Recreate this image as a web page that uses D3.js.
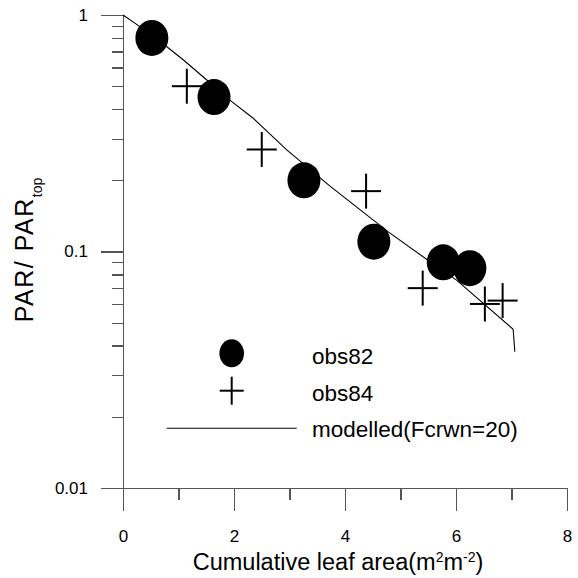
<!DOCTYPE html>
<meta charset='utf-8'>
<style>
  body { margin: 0; background: #fff; }
  svg { font-family: 'Liberation Sans', Arial, sans-serif; }
  .axis path, .axis line { stroke: #555; stroke-width: 1.3px; shape-rendering: crispEdges; }
  .axis text { font-size: 17px; fill: #000; font-family: 'Liberation Sans', Arial, sans-serif; }
  .model { fill: none; stroke: #000; stroke-width: 1.1px; }
  .plus { stroke: #000; stroke-width: 2px; }
</style>
<body>
<script src='https://d3js.org/d3.v7.min.js'></script>
<script>
// observed 1982
var obs82X = [0.52, 1.64, 3.26, 4.52, 5.77, 6.25];
var obs82Y = [0.80, 0.45, 0.20, 0.11, 0.090, 0.085];
// observed 1984
var obs84X = [1.15, 2.50, 4.38, 5.40, 6.52, 6.84];
var obs84Y = [0.50, 0.27, 0.18, 0.070, 0.060, 0.062];
// modelled curve
var modelX = [0, 0.22, 0.79, 1.09, 1.51, 1.96, 2.34, 2.95, 3.73, 4.78, 5.47, 6.01, 7.03, 7.06];
var modelY = [1.0, 0.922, 0.734, 0.645, 0.531, 0.430, 0.367, 0.269, 0.189, 0.121, 0.0927, 0.0757, 0.0469, 0.0377];

var xMajor = [0, 2, 4, 6, 8];
var xMinor = [1, 3, 5, 7];
var yMajor = [0.01, 0.1, 1];
var yMinor = [0.02, 0.03, 0.04, 0.05, 0.06, 0.07, 0.08, 0.09,
              0.2, 0.3, 0.4, 0.5, 0.6, 0.7, 0.8, 0.9];

var legendNames = ['obs82', 'obs84', 'modelled(Fcrwn=20)'];

var W = 578, H = 578;
var x = d3.scaleLinear().domain([0, 8]).range([123, 567]);
var y = d3.scaleLog().domain([0.01, 1]).range([488, 15]);

var svg = d3.select('body').append('svg')
    .attr('width', W)
    .attr('height', H);

// x axis
svg.append('g')
    .attr('class', 'axis')
    .attr('transform', 'translate(0,' + y(0.01) + ')')
    .call(d3.axisBottom(x).tickValues(xMinor).tickSize(12).tickSizeOuter(0).tickFormat(''));
svg.append('g')
    .attr('class', 'axis')
    .attr('transform', 'translate(0,' + y(0.01) + ')')
    .call(d3.axisBottom(x).tickValues(xMajor).tickSize(23).tickSizeOuter(0).tickPadding(19)
      .tickFormat(d3.format('d')));

// y axis
svg.append('g')
    .attr('class', 'axis')
    .attr('transform', 'translate(' + x(0) + ',0)')
    .call(d3.axisLeft(y).tickValues(yMinor).tickSize(11).tickSizeOuter(0).tickFormat(''));
svg.append('g')
    .attr('class', 'axis')
    .attr('transform', 'translate(' + x(0) + ',0)')
    .call(d3.axisLeft(y).tickValues(yMajor).tickSize(22).tickSizeOuter(0).tickPadding(13)
      .tickFormat(function(d) { return d === 1 ? '1' : String(d); }));

// model line
var line = d3.line()
    .x(function(d) { return x(d[0]); })
    .y(function(d) { return y(d[1]); });
svg.append('path')
    .datum(d3.zip(modelX, modelY))
    .attr('class', 'model')
    .attr('d', line);

// obs82 circles
svg.selectAll('.dot82')
    .data(d3.zip(obs82X, obs82Y))
  .enter().append('ellipse')
    .attr('class', 'dot82')
    .attr('cx', function(d) { return x(d[0]); })
    .attr('cy', function(d) { return y(d[1]); })
    .attr('rx', 16.5)
    .attr('ry', 18)
    .attr('fill', '#000');

// obs84 plus signs
function plus(g, cx, cy, hw, hh, sw) {
  g.append('line').attr('class', 'plus').attr('stroke-width', sw)
    .attr('x1', cx - hw).attr('x2', cx + hw).attr('y1', cy).attr('y2', cy);
  g.append('line').attr('class', 'plus').attr('stroke-width', sw)
    .attr('x1', cx).attr('x2', cx).attr('y1', cy - hh).attr('y2', cy + hh);
}
var pg = svg.append('g');
d3.zip(obs84X, obs84Y).forEach(function(d) {
  plus(pg, x(d[0]), y(d[1]), 15, 17.5, 2);
});

// legend
var lg = svg.append('g').attr('font-size', '22.5px');
lg.append('ellipse').attr('cx', 231.7).attr('cy', 353.3).attr('rx', 12.3).attr('ry', 14).attr('fill', '#000');
plus(lg, 231.7, 390.7, 12, 14, 1.6);
lg.append('line').attr('x1', 166.7).attr('x2', 296.7).attr('y1', 428.3).attr('y2', 428.3)
    .attr('stroke', '#000').attr('stroke-width', 1.1);
[364, 400.7, 436.7].forEach(function(by, i) {
  lg.append('text').attr('x', 312).attr('y', by).text(legendNames[i]);
});

// x title
var xt = svg.append('text')
    .attr('x', 338).attr('y', 570)
    .attr('text-anchor', 'middle')
    .attr('font-size', '23.5px');
xt.append('tspan').text('Cumulative leaf area(m');
xt.append('tspan').attr('font-size', '14px').attr('dy', -8).text('2');
xt.append('tspan').attr('dy', 8).text('m');
xt.append('tspan').attr('font-size', '14px').attr('dy', -8).text('-2');
xt.append('tspan').attr('dy', 8).text(')');

// y title
var yt = svg.append('text')
    .attr('transform', 'translate(33,250) rotate(-90)')
    .attr('text-anchor', 'middle')
    .attr('font-size', '25px')
    .attr('letter-spacing', '1.5px');
yt.append('tspan').text('PAR/ PAR');
yt.append('tspan').attr('font-size', '14px').attr('letter-spacing', '0px').attr('dy', 9).text('top');
</script>
</body>
